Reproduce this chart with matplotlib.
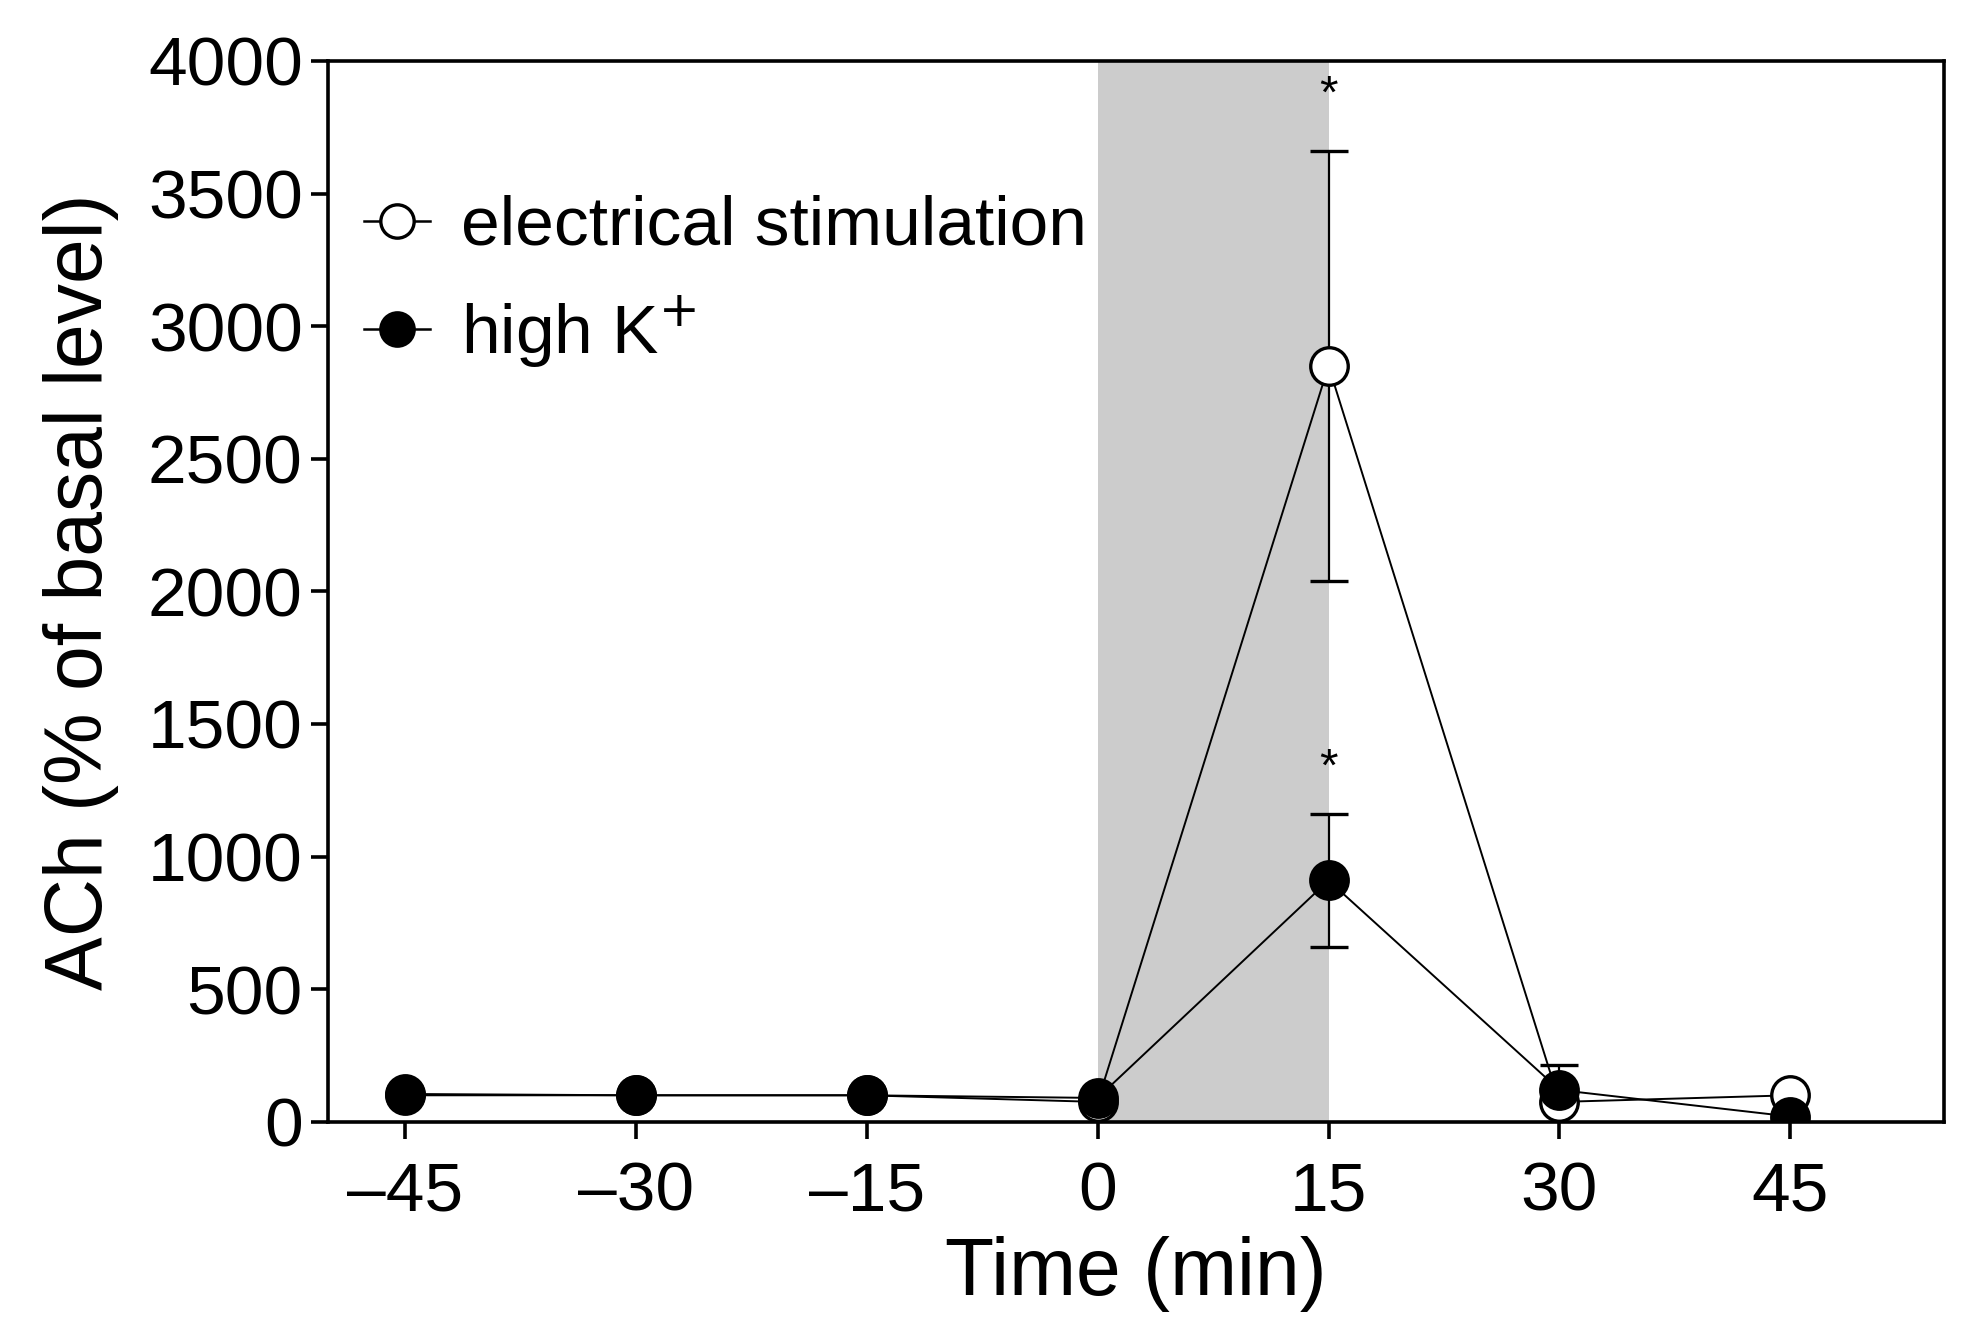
import matplotlib
matplotlib.use("Agg")
import matplotlib.pyplot as plt
from matplotlib.lines import Line2D

plt.rcParams['font.family'] = ['Liberation Sans', 'DejaVu Sans']

time = [-45, -30, -15, 0, 15, 30, 45]
elec_mean = [100, 100, 100, 75, 2850, 75, 100]
elec_err = [0, 0, 0, 0, 810, 140, 0]
k_mean = [105, 100, 100, 90, 910, 120, 20]
k_err = [0, 0, 0, 0, 250, 0, 0]
xtick_labels = ["\u201345", "\u201330", "\u201315", "0", "15", "30", "45"]
yticks = [0, 500, 1000, 1500, 2000, 2500, 3000, 3500, 4000]
star_y = [3870, 1330]
labels = ['electrical stimulation', 'high K$^{+}$']

fig = plt.figure(figsize=(19.82, 13.39), dpi=100)
ax = fig.add_axes([0.1654, 0.1622, 0.981 - 0.1654, 0.9545 - 0.1622])

ax.axvspan(0, 15, color='#cccccc', zorder=0, lw=0)

ax.errorbar(time, elec_mean, yerr=elec_err, fmt='-o', color='black', lw=1.4,
            ms=27, mfc='white', mec='black', mew=2.4, capsize=14, capthick=1.6,
            elinewidth=1.6, zorder=3)
ax.errorbar(time, k_mean, yerr=k_err, fmt='-o', color='black', lw=1.4,
            ms=27, mfc='black', mec='black', mew=2.4, capsize=14, capthick=1.6,
            elinewidth=1.6, zorder=4)

for y in star_y:
    ax.text(15, y, '*', ha='center', va='center', fontsize=34)

ax.set_xlim(-50, 55)
ax.set_ylim(0, 4000)
ax.set_xticks(time)
ax.set_xticklabels(xtick_labels)
ax.set_yticks(yticks)
ax.tick_params(axis='both', direction='out', length=12, width=2.6, labelsize=50)
ax.tick_params(axis='x', pad=16)
ax.tick_params(axis='y', pad=6)
for s in ax.spines.values():
    s.set_linewidth(2.6)

ax.set_xlabel('Time (min)', fontsize=58, labelpad=8)
ax.set_ylabel('ACh (% of basal level)', fontsize=58, labelpad=21)

handles = [
    Line2D([], [], color='black', lw=1.8, marker='o', ms=24, mfc='white', mec='black', mew=2.4),
    Line2D([], [], color='black', lw=1.8, marker='o', ms=24, mfc='black', mec='black', mew=2.4),
]
ax.legend(handles, labels, loc='upper left', bbox_to_anchor=(-0.012, 0.926), frameon=False,
          fontsize=50, handlelength=0.95, handletextpad=0.45,
          labelspacing=0.5, borderaxespad=0.4)

fig.savefig('out.png', dpi=100)
